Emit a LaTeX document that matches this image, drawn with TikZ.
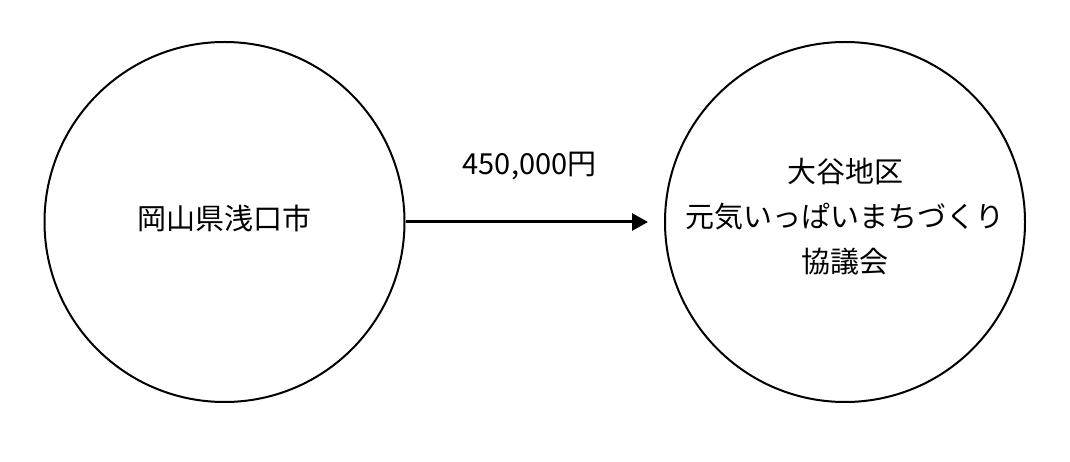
\documentclass[tikz,border=0pt]{standalone}
\usepackage{fontspec}
\setmainfont{Noto Sans CJK JP}
\usetikzlibrary{arrows.meta}

\begin{document}
\begin{tikzpicture}[x=1pt,y=-1pt,
    every node/.style={font=\fontsize{29}{45}\selectfont},
    party/.style={draw, circle, line width=2pt, minimum size=360pt, inner sep=0pt},
    partytext/.style={align=center, inner sep=0pt}]
  \useasboundingbox (0,0) rectangle (1070,462);
      \node[party] (city) at (224.5,222) {};
      \node[party] (council) at (845,222) {};
      \node[partytext] (citytext) at ([yshift=4pt]city.center) {岡山県浅口市};
      \node[partytext] (counciltext) at ([yshift=5pt]council.center) {大谷地区\\元気いっぱいまちづくり\\協議会};
      \draw[-{Triangle[length=16pt,width=17pt]}, line width=3pt, shorten >=16pt] (city) -- (council)
        node[pos=0.48, above=37pt] (amount) {450,000円};
\end{tikzpicture}
\end{document}
